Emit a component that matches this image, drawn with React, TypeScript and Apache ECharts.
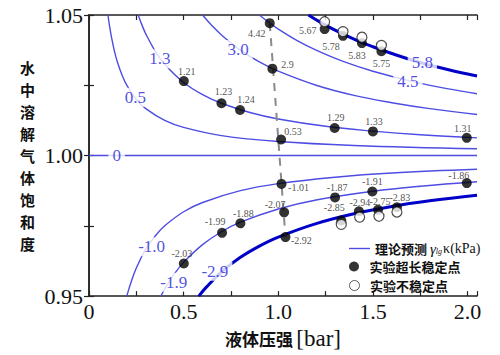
import React, { useEffect, useRef } from 'react';
import * as echarts from 'echarts';

const SERIF = '"Liberation Serif", "Times New Roman", serif';
const CJK = '"Noto Sans CJK SC", sans-serif';

// Theory curves (gamma_lg * kappa, kPa): [pressure bar, saturation]
const curveP05 = [[0.1, 1.05], [0.11, 1.0455], [0.12, 1.0417], [0.135, 1.037], [0.15, 1.0333], [0.175, 1.0286], [0.2, 1.025], [0.25, 1.02], [0.3, 1.0167], [0.4, 1.0125], [0.5, 1.01], [0.7, 1.0071], [1.0, 1.005], [1.4, 1.0036], [2.05, 1.0024]];
const curveP13 = [[0.26, 1.05], [0.28, 1.0464], [0.3, 1.0433], [0.35, 1.0371], [0.4, 1.0325], [0.5, 1.026], [0.6, 1.0217], [0.7, 1.0186], [0.85, 1.0153], [1.0, 1.013], [1.25, 1.0104], [1.5, 1.0087], [1.75, 1.0074], [2.05, 1.0063]];
const curveP30 = [[0.6, 1.05], [0.65, 1.0462], [0.7, 1.0429], [0.8, 1.0375], [0.9, 1.0333], [1.0, 1.03], [1.2, 1.025], [1.4, 1.0214], [1.6, 1.0188], [1.8, 1.0167], [2.05, 1.0146]];
const curveP45 = [[0.9, 1.05], [0.95, 1.0474], [1.0, 1.045], [1.1, 1.0409], [1.2, 1.0375], [1.35, 1.0333], [1.5, 1.03], [1.7, 1.0265], [1.9, 1.0237], [2.05, 1.022]];
const curveP58 = [[1.16, 1.05], [1.2, 1.0483], [1.3, 1.0446], [1.4, 1.0414], [1.5, 1.0387], [1.6, 1.0363], [1.75, 1.0331], [1.9, 1.0305], [2.05, 1.0283]];
const curveZero = [[0, 1.0], [2.05, 1.0]];
const curveN10 = [[0.2, 0.95], [0.21, 0.9524], [0.22, 0.9545], [0.25, 0.96], [0.3, 0.9667], [0.35, 0.9714], [0.4, 0.975], [0.5, 0.98], [0.6, 0.9833], [0.8, 0.9875], [1.0, 0.99], [1.3, 0.9923], [1.6, 0.9938], [2.05, 0.9951]];
const curveN19 = [[0.38, 0.95], [0.4, 0.9525], [0.45, 0.9578], [0.5, 0.962], [0.6, 0.9683], [0.7, 0.9729], [0.8, 0.9763], [1.0, 0.981], [1.2, 0.9842], [1.5, 0.9873], [1.75, 0.9891], [2.05, 0.9907]];
const curveN29 = [[0.58, 0.95], [0.62, 0.9532], [0.7, 0.9586], [0.8, 0.9638], [0.9, 0.9678], [1.0, 0.971], [1.2, 0.9758], [1.4, 0.9793], [1.6, 0.9819], [1.8, 0.9839], [2.05, 0.9859]];

const thinCurves = [curveP05, curveP13, curveP30, curveP45, curveZero, curveN10, curveN19];
const thickCurves = [curveP58, curveN29];

// Curve labels
const curveLabelText = ['0.5', '1.3', '3.0', '4.5', '5.8', '0', '-1.0', '-1.9', '-2.9'];
const curveLabelX = [0.245, 0.375, 0.788, 1.685, 1.761, 0.146, 0.331, 0.448, 0.665];
const curveLabelY = [1.0207, 1.0344, 1.0377, 1.0265, 1.033, 1.0, 0.9676, 0.9549, 0.9588];

// Experimental long-term stable points
const stableX = [0.955, 0.969, 1.015, 0.501, 0.7, 0.798, 1.298, 1.5, 1.996, 1.245, 1.342, 1.442, 1.545, 1.017, 1.031, 1.038, 0.703, 0.8, 0.501, 1.3, 1.497, 1.996, 1.333, 1.426, 1.527, 1.627];
const stableY = [1.0471, 1.0309, 1.0057, 1.0265, 1.0186, 1.0162, 1.0098, 1.0086, 1.0063, 1.045, 1.0426, 1.04, 1.0371, 0.9899, 0.9798, 0.971, 0.9725, 0.9759, 0.9616, 0.9851, 0.9872, 0.9902, 0.9769, 0.9802, 0.9807, 0.9816];
const stableLabel = ['4.42', '2.9', '0.53', '1.21', '1.23', '1.24', '1.29', '1.33', '1.31', '5.67', '5.78', '5.83', '5.75', '-1.01', '-2.07', '-2.92', '-1.99', '-1.88', '-2.03', '-1.87', '-1.91', '-1.86', '-2.85', '-2.94', '-2.75', '-2.83'];
// label offsets (px) relative to the marker
const stableLabelOffset = [[-13, 10], [15, -4], [12, -8], [3, -10], [2, -12], [6, -11], [1, -11], [1, -10], [-4, -9], [-17, 1], [-12, 11], [-5, 12], [0, 12], [17, 4], [-9, -8], [16, 3], [-7, -11], [3, -10], [-2, -10], [2, -10], [0, -10], [-8, -8], [-7, -13], [1, -9], [2, -8], [3, -10]];

// Experimental unstable points
const unstableX = [1.245, 1.342, 1.442, 1.545, 1.333, 1.43, 1.532, 1.627];
const unstableY = [1.0476, 1.0441, 1.0421, 1.0392, 0.9755, 0.9781, 0.9784, 0.9799];

// dashed guide
const guideX = [0.955, 1.038];
const guideY = [1.0471, 0.971];

const THEORY = '理论预测';
const STABLE = '实验超长稳定点';
const UNSTABLE = '实验不稳定点';

const THIN = '#4d4de3';
const THICK = '#0000c8';

export default function App() {
  const ref = useRef<HTMLDivElement>(null);
  useEffect(() => {
    if (!ref.current) return;
    const chart = echarts.init(ref.current, undefined, { renderer: 'svg' });

    const xLabel = (v: number) => {
      const r = Math.round(v * 2);
      if (Math.abs(v * 2 - r) > 1e-6) return '';
      return v === 0 ? '0' : v.toFixed(1);
    };
    const yLabel = (v: number) => {
      const r = Math.round(v * 20);
      if (Math.abs(v * 20 - r) > 1e-6) return '';
      return v.toFixed(2);
    };

    const axisCommon = {
      axisLine: { show: true, lineStyle: { color: '#222', width: 1.5 } },
      axisTick: { show: true, inside: true, length: 5, lineStyle: { color: '#222', width: 1.2 } },
      splitLine: { show: false },
    };

    const series: any[] = [];
    thinCurves.forEach((c) => {
      series.push({
        type: 'line', name: THEORY, data: c, symbol: 'none', smooth: 0.4,
        lineStyle: { color: THIN, width: 1.4 }, itemStyle: { color: THIN }, z: 2, silent: true,
      });
    });
    thickCurves.forEach((c) => {
      series.push({
        type: 'line', name: THEORY + '_thick', data: c, symbol: 'none', smooth: 0.4,
        lineStyle: { color: THICK, width: 3 }, itemStyle: { color: THICK }, z: 2, silent: true,
      });
    });
    series.push({
      type: 'scatter', name: 'curveLabels', symbolSize: 1, z: 3,
      itemStyle: { color: 'rgba(0,0,0,0)' },
      data: curveLabelX.map((x, i) => ({ value: [x, curveLabelY[i]], name: curveLabelText[i] })),
      label: {
        show: true, position: 'inside', formatter: (p: any) => p.name,
        color: '#2323d8', fontFamily: SERIF, fontSize: 17, backgroundColor: '#fff', padding: [1, 4],
      },
    });
    series.push({
      type: 'line', name: 'guide', data: guideX.map((x, i) => [x, guideY[i]]), symbol: 'none',
      lineStyle: { color: '#8a8a8a', width: 2, type: [8, 7] }, z: 4, silent: true,
    });
    series.push({
      type: 'scatter', name: STABLE, symbol: 'circle', symbolSize: 10, z: 5,
      itemStyle: { color: '#000' },
      data: stableX.map((x, i) => ({
        value: [x, stableY[i]], name: stableLabel[i],
        label: { offset: stableLabelOffset[i] },
      })),
      label: {
        show: true, position: 'inside', formatter: (p: any) => p.name,
        color: '#222', fontFamily: SERIF, fontSize: 10,
      },
    });
    series.push({
      type: 'scatter', name: UNSTABLE, symbol: 'circle', symbolSize: 10, z: 6,
      itemStyle: { color: '#fff', borderColor: '#222', borderWidth: 1.2 },
      data: unstableX.map((x, i) => [x, unstableY[i]]),
    });

    const legendBase = {
      orient: 'vertical', left: 349, itemWidth: 21, itemHeight: 10, selectedMode: false, padding: 0,
      textStyle: {
        color: '#111', fontSize: 13,
        rich: {
          c: { fontFamily: CJK, fontWeight: 'bold', fontSize: 13, color: '#111' },
          g: { fontFamily: SERIF, fontStyle: 'italic', fontSize: 15, color: '#111' },
          s: { fontFamily: SERIF, fontStyle: 'italic', fontSize: 8, color: '#111', padding: [6, 1, 0, 0] },
          k: { fontFamily: SERIF, fontSize: 14, color: '#111' },
        },
      },
    };

    chart.setOption({
      animation: false,
      backgroundColor: '#fff',
      grid: { left: 89, right: 23, top: 15, bottom: 56 },
      legend: [
        {
          ...legendBase, top: 241,
          data: [{ name: THEORY, icon: 'path://M0,0 H21 V1.4 H0 Z', itemStyle: { color: THIN } }],
          formatter: () => '{c|理论预测 }{g|γ}{s|lg}{k|κ(kPa)}',
        },
        {
          ...legendBase, top: 260,
          data: [{ name: STABLE, icon: 'circle', itemStyle: { color: '#000' } }],
          formatter: (n: string) => '{c|' + n + '}',
        },
        {
          ...legendBase, top: 279,
          data: [{ name: UNSTABLE, icon: 'circle', itemStyle: { color: '#fff', borderColor: '#333', borderWidth: 1 } }],
          formatter: (n: string) => '{c|' + n + '}',
        },
      ],
      xAxis: [
        {
          type: 'value', min: 0, max: 2.05, interval: 0.25, position: 'bottom',
          ...axisCommon,
          axisLabel: { formatter: xLabel, fontFamily: SERIF, fontSize: 22, color: '#111', margin: 4 },
          name: '{c|液体压强} {r|[bar]}', nameLocation: 'middle', nameGap: 21,
          nameTextStyle: {
            rich: {
              c: { fontFamily: CJK, fontWeight: 'bold', fontSize: 17, color: '#111' },
              r: { fontFamily: SERIF, fontSize: 23, color: '#111' },
            },
          },
        },
        {
          type: 'value', min: 0, max: 2.05, interval: 0.25, position: 'top',
          ...axisCommon, axisLabel: { show: false },
        },
      ],
      yAxis: [
        {
          type: 'value', min: 0.95, max: 1.05, interval: 0.025, position: 'left',
          ...axisCommon,
          axisLabel: { formatter: yLabel, fontFamily: SERIF, fontSize: 22, color: '#111', margin: 6 },
          name: '水\n中\n溶\n解\n气\n体\n饱\n和\n度', nameLocation: 'middle', nameRotate: 0, nameGap: 54,
          nameTextStyle: {
            fontFamily: CJK, fontWeight: 'bold', fontSize: 15, lineHeight: 22, color: '#111',
            padding: [18, 0, 0, 0],
          },
        },
        {
          type: 'value', min: 0.95, max: 1.05, interval: 0.025, position: 'right',
          ...axisCommon, axisLabel: { show: false },
        },
      ],
      series,
    });
    return () => chart.dispose();
  }, []);
  return <div ref={ref} style={{ position: 'fixed', left: 0, top: 0, width: 500, height: 355 }} />;
}
